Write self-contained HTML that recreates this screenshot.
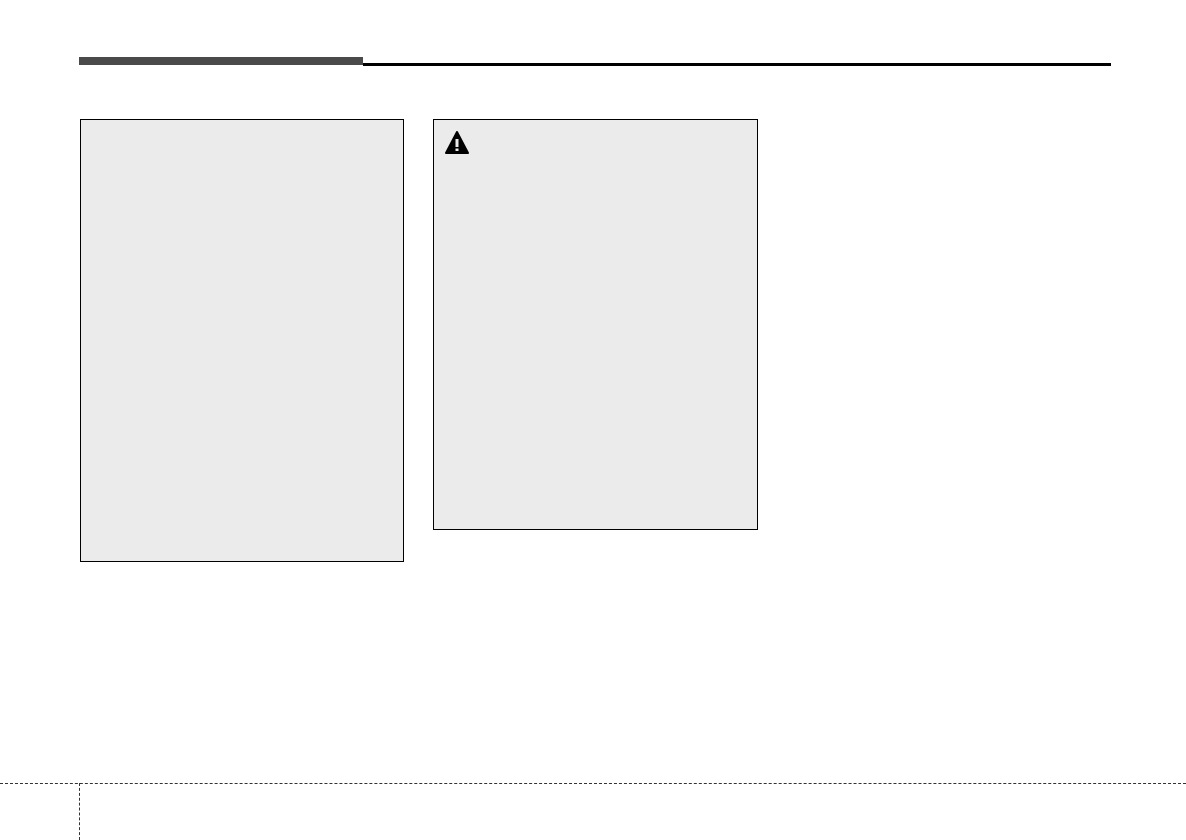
<!DOCTYPE html>
<html><head><style>
html,body{margin:0;padding:0;background:#fff;}
body{width:1186px;height:840px;position:relative;overflow:hidden;font-family:"Liberation Sans",sans-serif;}
.a{position:absolute;}
</style></head><body>
<div class="a" style="left:79px;top:57px;width:284px;height:8px;background:#4a4a4a;"></div>
<div class="a" style="left:363px;top:63px;width:748px;height:3px;background:#000;"></div>
<div class="a" style="left:80px;top:119px;width:322px;height:441px;background:#ebebeb;border:1px solid #000;"></div>
<div class="a" style="left:433px;top:119px;width:323px;height:409px;background:#ebebeb;border:1px solid #000;"></div>
<svg class="a" style="left:444px;top:130px" width="26" height="26" viewBox="0 0 26 26">
<polygon points="13,2 24,23 2,23" fill="#000" stroke="#000" stroke-width="2" stroke-linejoin="round"/>
<rect x="11.5" y="9" width="3" height="8" fill="#ebebeb"/>
<rect x="11.5" y="18.5" width="3" height="2.5" fill="#ebebeb"/>
</svg>
<div class="a" style="left:0;top:783px;width:1186px;border-top:1px dashed #333;"></div>
<div class="a" style="left:79px;top:783px;height:57px;border-left:1px dashed #333;"></div>
</body></html>
